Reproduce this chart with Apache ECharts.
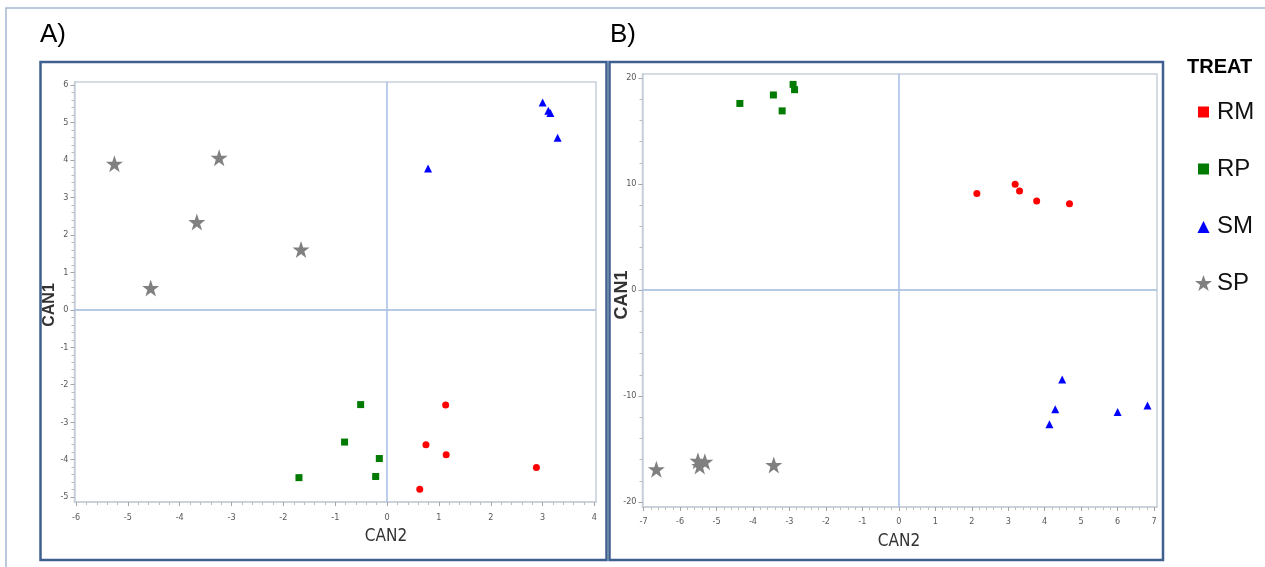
<!DOCTYPE html>
<html>
<head>
<meta charset="utf-8">
<title>Canonical discriminant scores by treatment</title>
<script src="https://cdn.jsdelivr.net/npm/echarts@6/dist/echarts.min.js"></script>
<style>
  html, body { margin: 0; padding: 0; background: #ffffff; }
  #chart { width: 1265px; height: 567px; }
</style>
</head>
<body>
<div id="chart"></div>
<script>
// Treatment groups
const treatments = ['RM', 'RP', 'SM', 'SP'];
const treatColors = ['#ff0000', '#007a00', '#0000ff', '#808080'];

// Panel A scores, each point is [CAN2, CAN1]
const scoresA_RM = [[1.13, -2.54], [0.75, -3.60], [1.14, -3.87], [2.88, -4.21], [0.63, -4.79]];
const scoresA_RP = [[-0.51, -2.53], [-0.82, -3.53], [-0.15, -3.97], [-0.22, -4.45], [-1.70, -4.48]];
const scoresA_SM = [[0.79, 3.77], [3.00, 5.53], [3.11, 5.31], [3.15, 5.25], [3.29, 4.59]];
const scoresA_SP = [[-5.26, 3.90], [-3.24, 4.06], [-3.67, 2.34], [-4.56, 0.58], [-1.66, 1.61]];

// Panel B scores, each point is [CAN2, CAN1]
const scoresB_RM = [[2.14, 9.10], [3.19, 9.98], [3.31, 9.35], [3.78, 8.41], [4.68, 8.13]];
const scoresB_RP = [[-4.36, 17.6], [-3.44, 18.4], [-3.20, 16.9], [-2.90, 19.4], [-2.86, 18.9]];
const scoresB_SM = [[4.48, -8.43], [4.29, -11.25], [4.13, -12.66], [6.00, -11.5], [6.82, -10.9]];
const scoresB_SP = [[-6.65, -16.9], [-5.51, -16.1], [-5.46, -16.6], [-5.32, -16.2], [-3.43, -16.5]];

// Tick labels
const ticksA_x = [-6, -5, -4, -3, -2, -1, 0, 1, 2, 3, 4];
const ticksA_y = [-5, -4, -3, -2, -1, 0, 1, 2, 3, 4, 5, 6];
const ticksB_x = [-7, -6, -5, -4, -3, -2, -1, 0, 1, 2, 3, 4, 5, 6, 7];
const ticksB_y = [-20, -10, 0, 10, 20];

// Minor tick positions between the labelled ticks
function minorTicks(major, step) {
  const out = [];
  for (let i = 0; i < major.length - 1; i++) {
    const a = major[i], b = major[i + 1];
    for (let v = a + step; v < b - step / 2; v += step) out.push(Math.round(v * 1000) / 1000);
  }
  return out;
}

const STAR = 'path://M50,2 L61.8,36.3 L97.6,36.3 L68.6,57.6 L79.4,92 L50,70.8 L20.6,92 L31.4,57.6 L2.4,36.3 L38.2,36.3 Z';
const symbols = ['circle', 'rect', 'triangle', STAR];
const symbolSizes = [7, 7, 8, 17];

const NARROW = '"Liberation Sans Narrow", "DejaVu Sans Condensed", "Liberation Sans", sans-serif';
const frameColor = '#c6cfda';
const refColor = '#a9c1e2';

function mainAxis(gridIndex, min, max, ticks, margin) {
  return {
    type: 'value', gridIndex, min, max,
    splitLine: { show: false },
    axisLine: { show: true, onZero: false, lineStyle: { color: frameColor, width: 1.5 } },
    axisTick: { show: true, inside: false, length: 4, customValues: ticks, lineStyle: { color: '#a4a4a4', width: 1 } },
    axisLabel: { show: true, customValues: ticks, margin, fontSize: 9, color: '#585858', fontFamily: NARROW }
  };
}
function minorAxis(gridIndex, min, max, ticks, position) {
  return {
    type: 'value', gridIndex, min, max, position,
    splitLine: { show: false },
    axisLine: { show: false, onZero: false },
    axisTick: { show: true, inside: false, length: 3, customValues: ticks, lineStyle: { color: '#bdbdbd', width: 1 } },
    axisLabel: { show: false }
  };
}

const xAxes = [
  Object.assign(mainAxis(0, -6.03, 4.03, ticksA_x, 11), { position: 'bottom' }),
  Object.assign(mainAxis(1, -7.03, 7.08, ticksB_x, 10), { position: 'bottom' }),
  minorAxis(0, -6.03, 4.03, minorTicks(ticksA_x, 0.2), 'bottom'),
  minorAxis(1, -7.03, 7.08, minorTicks(ticksB_x, 0.2), 'bottom')
];
const yAxes = [
  Object.assign(mainAxis(0, -5.13, 6.08, ticksA_y, 6), { position: 'left' }),
  Object.assign(mainAxis(1, -20.47, 20.38, ticksB_y, 6), { position: 'left' }),
  minorAxis(0, -5.13, 6.08, minorTicks(ticksA_y, 0.2), 'left'),
  minorAxis(1, -20.47, 20.38, minorTicks(ticksB_y, 2), 'left')
];

// Reference lines through the origin
const originLines = {
  silent: true,
  symbol: ['none', 'none'],
  label: { show: false },
  animation: false,
  data: [
    { xAxis: 0, lineStyle: { color: '#a4bfe6', width: 1.5, type: 'solid' } },
    { yAxis: 0, lineStyle: { color: refColor, width: 2.2, type: 'solid', opacity: 0.85 } }
  ]
};

const panelData = [
  [scoresA_RM, scoresA_RP, scoresA_SM, scoresA_SP],
  [scoresB_RM, scoresB_RP, scoresB_SM, scoresB_SP]
];

const series = [];
panelData.forEach((groups, p) => {
  groups.forEach((pts, k) => {
    const s = {
      type: 'scatter',
      name: treatments[k],
      xAxisIndex: p,
      yAxisIndex: p,
      data: pts,
      symbol: symbols[k],
      symbolSize: symbolSizes[k],
      itemStyle: { color: treatColors[k], opacity: 1 },
      emphasis: { disabled: true },
      z: 5
    };
    if (k === 0) s.markLine = originLines;
    series.push(s);
  });
});

const chart = echarts.init(document.getElementById('chart'), null, { renderer: 'canvas' });
chart.setOption({
  backgroundColor: '#ffffff',
  animation: false,
  grid: [
    { left: 74.5, top: 82, width: 521.5, height: 420, show: true, backgroundColor: '#ffffff', borderColor: frameColor, borderWidth: 1.5 },
    { left: 642.5, top: 74, width: 514.5, height: 433, show: true, backgroundColor: '#ffffff', borderColor: frameColor, borderWidth: 1.5 }
  ],
  xAxis: xAxes,
  yAxis: yAxes,
  legend: {
    orient: 'vertical',
    left: 1187,
    top: 95,
    itemWidth: 17,
    itemHeight: 17,
    itemGap: 33,
    selectedMode: false,
    textStyle: { fontSize: 24, color: '#111111', fontFamily: '"Liberation Sans", Arial, sans-serif', lineHeight: 24, padding: [0, 0, 0, 0] },
    data: [
      { name: 'RM', icon: 'rect', itemStyle: { borderColor: '#ffffff', borderWidth: 6 } },
      { name: 'RP', icon: 'rect', itemStyle: { borderColor: '#ffffff', borderWidth: 6 } },
      { name: 'SM', icon: 'triangle', itemStyle: { borderColor: '#ffffff', borderWidth: 3 } },
      { name: 'SP', icon: STAR }
    ]
  },
  graphic: [
    { type: 'rect', silent: true, z: -10, shape: { x: 6, y: 8, width: 1270, height: 570 }, style: { fill: 'none', stroke: '#a3b6cf', lineWidth: 1.5 } },
    { type: 'rect', silent: true, z: -5, shape: { x: 40.5, y: 62, width: 566, height: 498 }, style: { fill: 'none', stroke: '#3f5f8e', lineWidth: 2.5 } },
    { type: 'rect', silent: true, z: -5, shape: { x: 609.5, y: 62, width: 553.5, height: 498 }, style: { fill: 'none', stroke: '#3f5f8e', lineWidth: 2.5 } },
    { type: 'text', silent: true, x: 40, y: 35, style: { text: 'A)', fill: '#000000', font: '26px "Liberation Sans Narrow", "Liberation Sans", sans-serif', textAlign: 'left', textVerticalAlign: 'middle' } },
    { type: 'text', silent: true, x: 610, y: 35, style: { text: 'B)', fill: '#000000', font: '26px "Liberation Sans Narrow", "Liberation Sans", sans-serif', textAlign: 'left', textVerticalAlign: 'middle' } },
    { type: 'text', silent: true, x: 1187, y: 67, style: { text: 'TREAT', fill: '#000000', font: 'bold 20px "Liberation Sans", Arial, sans-serif', textAlign: 'left', textVerticalAlign: 'middle' } },
    { type: 'text', silent: true, x: 386, y: 537, style: { text: 'CAN2', fill: '#333333', font: '17px ' + NARROW, textAlign: 'center', textVerticalAlign: 'middle' } },
    { type: 'text', silent: true, x: 899, y: 542, style: { text: 'CAN2', fill: '#333333', font: '17px ' + NARROW, textAlign: 'center', textVerticalAlign: 'middle' } },
    { type: 'text', silent: true, x: 50, y: 305, rotation: Math.PI / 2, style: { text: 'CAN1', fill: '#333333', font: 'bold 16px "Liberation Sans", Arial, sans-serif', textAlign: 'center', textVerticalAlign: 'middle' } },
    { type: 'text', silent: true, x: 622, y: 295, rotation: Math.PI / 2, style: { text: 'CAN1', fill: '#333333', font: 'bold 18px "Liberation Sans", Arial, sans-serif', textAlign: 'center', textVerticalAlign: 'middle' } }
  ],
  series
});
</script>
</body>
</html>
